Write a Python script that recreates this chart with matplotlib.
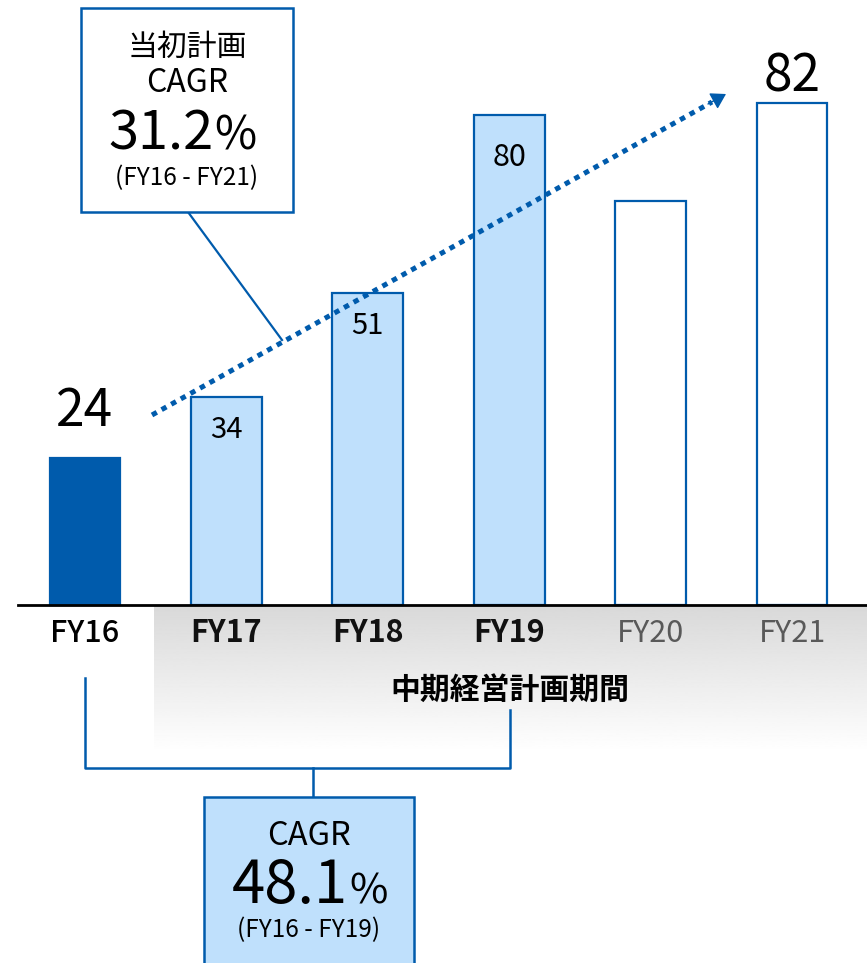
import numpy as np
import matplotlib
matplotlib.use("Agg")
import matplotlib.pyplot as plt
from matplotlib.patches import Rectangle

plt.rcParams['font.family'] = ['Noto Sans CJK JP', 'DejaVu Sans']

# -----------------------------
# data
# -----------------------------
years = ["FY16", "FY17", "FY18", "FY19", "FY20", "FY21"]
values = [24, 34, 51, 80, 66, 82]
labels = ["24", "34", "51", "80", "", "82"]
label_inside = [False, True, True, True, False, False]
bar_kind = ["actual", "plan_done", "plan_done", "plan_done", "plan", "plan"]

BLUE = "#005bac"
LIGHT = "#bfe0fc"

W, H = 867, 963
fig = plt.figure(figsize=(W / 100, H / 100), dpi=100)

# main axes: category index on x, value on y (about 6.12 px per unit, baseline at 605 px)
ax = fig.add_axes([0, 0, 1, 1])
ppu_x, ppu_y = 141.4, 6.12
x0, x1 = -85 / ppu_x, (W - 85) / ppu_x
y0, y1 = -(H - 605) / ppu_y, 605 / ppu_y
ax.set_xlim(x0, x1)
ax.set_ylim(y0, y1)
ax.axis("off")

# gray gradient under the mid-term plan period (FY17 onwards)
grad = np.linspace(0.85, 1.0, 256).reshape(-1, 1)
ax.imshow(grad, cmap="gray", vmin=0, vmax=1, aspect="auto", zorder=0,
          extent=[0.49, x1, -147 / ppu_y, -2 / ppu_y])

x = np.arange(len(years))
for xi, v, kind in zip(x, values, bar_kind):
    if kind == "actual":
        fc, ec = BLUE, BLUE
    elif kind == "plan_done":
        fc, ec = LIGHT, BLUE
    else:
        fc, ec = "white", BLUE
    ax.bar(xi, v, width=0.5, color=fc, edgecolor=ec, linewidth=1.6, zorder=3)

# label offsets (value units) above the bar top / below it for inside labels
outside_gap = {0: 7.6, 5: 4.3}
for i, (xi, v, lab, inside) in enumerate(zip(x, values, labels, label_inside)):
    if not lab:
        continue
    if inside:
        big = v > 70
        ax.text(xi, v - (6.9 if big else 5.4), lab, ha="center", va="center",
                fontsize=22 if big else 21, color="black", zorder=5)
    else:
        ax.text(xi, v + outside_gap[i], lab, ha="center", va="center", fontsize=37, color="black", zorder=5)

ax.axhline(0, xmin=18 / W, xmax=1, color="black", lw=2, zorder=4)

# tick labels
for i, (xi, yr) in enumerate(zip(x, years)):
    if i == 0:
        ax.text(xi, -4.6, yr, ha="center", va="center", fontsize=22, fontweight="medium", color="black", zorder=5)
    elif i <= 3:
        ax.text(xi, -4.6, yr, ha="center", va="center", fontsize=22, fontweight="bold", color="#111111", zorder=5)
    else:
        ax.text(xi, -4.6, yr, ha="center", va="center", fontsize=22, color="#595959", zorder=5)

# -----------------------------
# overlay in pixel coords for annotations
# -----------------------------
ov = fig.add_axes([0, 0, 1, 1], facecolor="none")
ov.set_xlim(0, W)
ov.set_ylim(H, 0)
ov.axis("off")

ov.text(510, 690, "中期経営計画期間", ha="center", va="center", fontsize=21.5, fontweight="bold")

# dotted trend arrow
ov.plot([152, 712], [415, 102], color=BLUE, lw=3.6, linestyle=(0, (1.1, 1.1)),
        dash_capstyle="butt", zorder=6)
ov.annotate("", xy=(726, 94), xytext=(708, 104),
            arrowprops=dict(arrowstyle="-|>,head_length=0.9,head_width=0.55", color=BLUE, lw=1,
                            shrinkA=0, shrinkB=0), zorder=6)

# box 1 : planned CAGR
ov.add_patch(Rectangle((81, 8), 212, 204, facecolor="white", edgecolor=BLUE, lw=1.8, zorder=6))
ov.plot([188, 282], [212, 340], color=BLUE, lw=1.6, zorder=5)
ov.text(187, 47, "当初計画", ha="center", va="center", fontsize=21.5, zorder=7)
ov.text(187, 83, "CAGR", ha="center", va="center", fontsize=23, zorder=7)
ov.text(214, 150, "31.2", ha="right", va="baseline", fontsize=39, zorder=7)
ov.text(214, 150, "%", ha="left", va="baseline", fontsize=33, zorder=7)
ov.text(187, 178, "(FY16 - FY21)", ha="center", va="center", fontsize=17.5, zorder=7)

# bracket + box 2 : actual CAGR
ov.plot([85, 85, 510, 510], [678, 768, 768, 710], color=BLUE, lw=1.8, zorder=5)
ov.plot([313, 313], [768, 797], color=BLUE, lw=1.8, zorder=5)
ov.add_patch(Rectangle((204, 797), 210, 180, facecolor=LIGHT, edgecolor=BLUE, lw=1.8, zorder=6))
ov.text(309, 836, "CAGR", ha="center", va="center", fontsize=23.5, zorder=7)
ov.text(348, 903, "48.1", ha="right", va="baseline", fontsize=43, zorder=7)
ov.text(349, 903, "%", ha="left", va="baseline", fontsize=30, zorder=7)
ov.text(309, 930, "(FY16 - FY19)", ha="center", va="center", fontsize=17.5, zorder=7)

fig.savefig("out.png", dpi=100)
